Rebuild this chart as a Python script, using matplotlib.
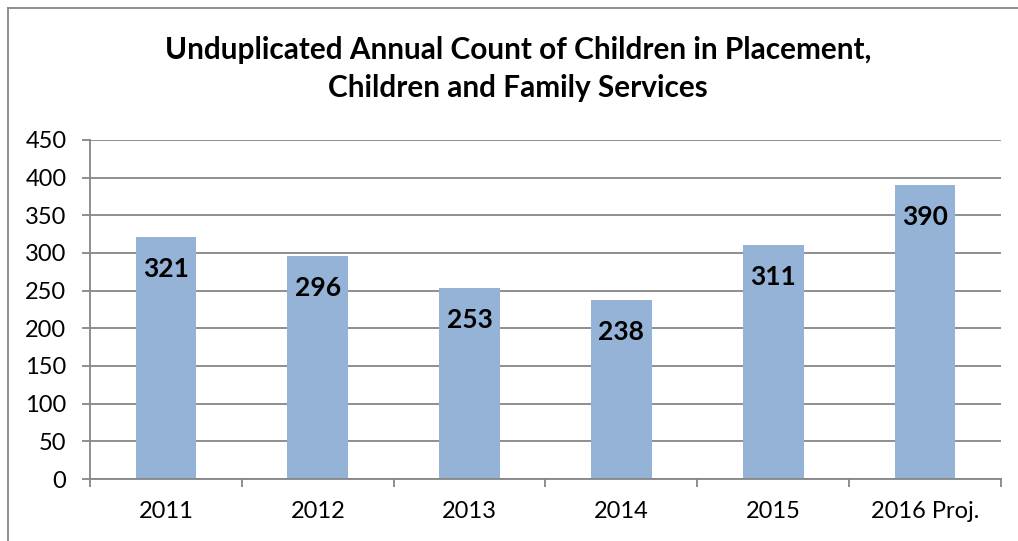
import matplotlib.pyplot as plt
from matplotlib.lines import Line2D

years = ["2011", "2012", "2013", "2014", "2015", "2016 Proj."]
counts = [321, 296, 253, 238, 311, 390]
yticks = [0, 50, 100, 150, 200, 250, 300, 350, 400, 450]

plt.rcParams['font.family'] = ['Lato', 'DejaVu Sans']

fig = plt.figure(figsize=(10.18, 5.41), dpi=100)
ax = fig.add_axes([90 / 1018, 1 - 479 / 541, 911 / 1018, 339 / 541])

x = list(range(len(years)))
ax.bar(x, counts, width=0.4, color="#95B3D7", zorder=2)
for xi, v in zip(x, counts):
    ax.annotate(str(v), (xi, v), xytext=(0, -23), textcoords="offset points",
                ha="center", va="center", fontsize=19, fontweight="bold")

ax.set_xlim(-0.5, len(years) - 0.5)
ax.set_ylim(0, 450)
ax.set_yticks(yticks)
ax.yaxis.grid(True, color="#868686", linewidth=1.3, zorder=0)
ax.set_axisbelow(True)

# category labels centred, tick marks on the category boundaries
ax.set_xticks(x)
ax.set_xticklabels(years, fontsize=17)
ax.tick_params(axis="x", length=0, pad=16)
ax.set_xticks([i - 0.5 for i in range(len(years) + 1)], minor=True)
ax.tick_params(axis="x", which="minor", length=6, color="#868686", width=1.3)
ax.tick_params(axis="y", labelsize=17, length=6, color="#868686", width=1.3, pad=11)

for side in ("top", "right"):
    ax.spines[side].set_visible(False)
for side in ("left", "bottom"):
    ax.spines[side].set_color("#868686")
    ax.spines[side].set_linewidth(1.3)

fig.text(0.509, 1 - 50 / 541, "Unduplicated Annual Count of Children in Placement,",
         ha="center", va="center", fontsize=21.4, fontweight="bold")
fig.text(0.509, 1 - 88 / 541, "Children and Family Services",
         ha="center", va="center", fontsize=21.4, fontweight="bold")

# outer chart border (only left and top fall inside the image)
fig.add_artist(Line2D([8 / 1018, 8 / 1018], [0, 1 - 8 / 541], transform=fig.transFigure,
                      color="#868686", linewidth=1.3))
fig.add_artist(Line2D([8 / 1018, 1], [1 - 8 / 541, 1 - 8 / 541], transform=fig.transFigure,
                      color="#868686", linewidth=1.3))

fig.savefig("out.png", dpi=100)
